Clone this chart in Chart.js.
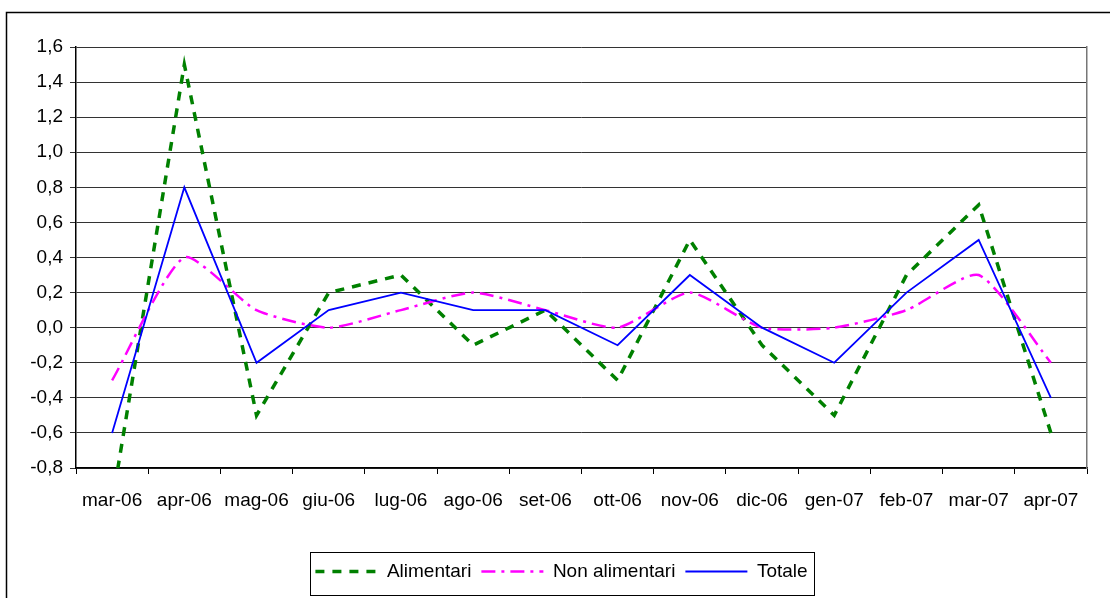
<!DOCTYPE html>
<html>
<head>
<meta charset="utf-8">
<script src="https://cdn.jsdelivr.net/npm/chart.js@4"></script>
<style>
  html, body { margin: 0; padding: 0; background: #fff; }
  canvas { display: block; }
</style>
</head>
<body>
<canvas id="myChart" width="1110" height="598"></canvas>
<script>
// dati (variazioni %)
const mesi = ['mar-06', 'apr-06', 'mag-06', 'giu-06', 'lug-06', 'ago-06', 'set-06',
              'ott-06', 'nov-06', 'dic-06', 'gen-07', 'feb-07', 'mar-07', 'apr-07'];
const alimentari    = [-1.0, 1.5, -0.5, 0.2, 0.3, -0.1, 0.1, -0.3, 0.5, -0.1, -0.5, 0.3, 0.7, -0.6];
const nonAlimentari = [-0.3, 0.4, 0.1, 0.0, 0.1, 0.2, 0.1, 0.0, 0.2, 0.0, 0.0, 0.1, 0.3, -0.2];
const totale        = [-0.6, 0.8, -0.2, 0.1, 0.2, 0.1, 0.1, -0.1, 0.3, 0.0, -0.2, 0.2, 0.5, -0.4];
const yMin = -0.8, yMax = 1.6, yStep = 0.2;

const FONT = "'Liberation Sans', Arial, sans-serif";

// cornice esterna + riquadro della legenda
const frames = {
  id: 'frames',
  afterDraw(chart) {
    const c = chart.ctx;
    c.save();
    c.strokeStyle = '#000';
    c.lineWidth = 1.5;
    c.beginPath();
    c.moveTo(6.5, 598);
    c.lineTo(6.5, 12.5);
    c.lineTo(1110, 12.5);
    c.stroke();

    const boxes = chart.legend.legendHitBoxes;
    if (boxes && boxes.length) {
      const first = boxes[0], last = boxes[boxes.length - 1];
      const left = first.left - 5;
      const right = last.left + last.width + 7;
      const top = chart.legend.top;
      c.lineWidth = 1;
      c.strokeRect(Math.round(left) + 0.5, Math.round(top) + 0.5, Math.round(right - left), 43);
    }
    c.restore();
  }
};

const ctx = document.getElementById('myChart').getContext('2d');
new Chart(ctx, {
  type: 'line',
  data: {
    labels: mesi,
    datasets: [{
      label: 'Alimentari',
      data: alimentari,
      borderColor: '#008000',
      backgroundColor: '#008000',
      borderWidth: 3.5,
      borderDash: [9, 8],
      pointRadius: 0,
      tension: 0,
      order: 2
    }, {
      label: 'Non alimentari',
      data: nonAlimentari,
      borderColor: '#ff00ff',
      backgroundColor: '#ff00ff',
      borderWidth: 2.5,
      borderDash: [14, 6, 3, 6],
      pointRadius: 0,
      tension: 0.2,
      order: 1
    }, {
      label: 'Totale',
      data: totale,
      borderColor: '#0000ff',
      backgroundColor: '#0000ff',
      borderWidth: 1.8,
      pointRadius: 0,
      tension: 0,
      order: 0
    }]
  },
  options: {
    responsive: false,
    animation: false,
    layout: { padding: { top: 47, left: 13, right: 0, bottom: 7 } },
    plugins: {
      tooltip: { enabled: false },
      legend: {
        position: 'bottom',
        labels: {
          usePointStyle: true,
          pointStyle: 'line',
          pointStyleWidth: 62,
          padding: 10,
          color: '#000',
          font: { family: FONT, size: 19 },
          sort: (a, b) => a.datasetIndex - b.datasetIndex,
          generateLabels(chart) {
            const items = Chart.defaults.plugins.legend.labels.generateLabels(chart);
            items.forEach(function (it) {
              const ds = chart.data.datasets[it.datasetIndex];
              it.lineDash = ds.borderDash || [];
              it.lineWidth = ds.borderWidth;
              it.strokeStyle = ds.borderColor;
            });
            return items;
          }
        }
      }
    },
    scales: {
      x: {
        offset: true,
        grid: {
          offset: true,
          drawOnChartArea: false,
          color: '#000',
          tickLength: 6
        },
        border: { color: '#000', width: 1.5 },
        ticks: {
          color: '#000',
          padding: 15,
          maxRotation: 0,
          autoSkip: false,
          font: { family: FONT, size: 19 }
        },
        afterFit(scale) { scale.height = 84; }
      },
      y: {
        min: yMin,
        max: yMax,
        grid: { color: '#333', tickLength: 6 },
        border: { color: '#000', width: 1.5 },
        ticks: {
          stepSize: yStep,
          color: '#000',
          padding: 7,
          font: { family: FONT, size: 19 },
          callback: (v) => v.toFixed(1).replace('.', ',')
        },
        afterFit(scale) { scale.width = 63; }
      },
      yR: {
        position: 'right',
        grid: { drawOnChartArea: false, drawTicks: false },
        border: { color: '#777', width: 1.5 },
        ticks: { display: false },
        afterFit(scale) { scale.width = 23; }
      }
    }
  },
  plugins: [frames]
});
</script>
</body>
</html>
